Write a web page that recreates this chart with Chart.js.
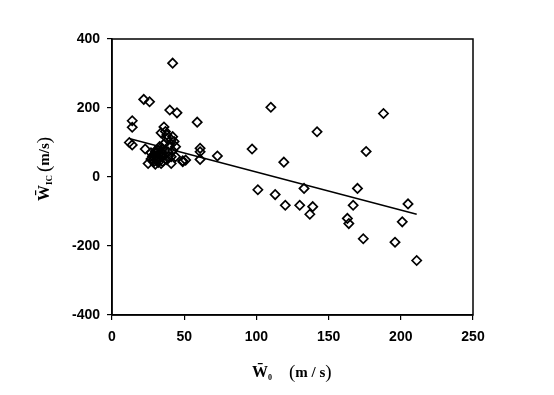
<!DOCTYPE html>
<html>
<head>
<meta charset="utf-8">
<script src="https://cdn.jsdelivr.net/npm/chart.js@4"></script>
<style>
  html, body { margin: 0; padding: 0; background: #fff; }
  canvas { display: block; }
</style>
</head>
<body>
<canvas id="grafico" width="554" height="395"></canvas>
<script>
// Dados
const w0 = [
    110, 188, 142, 97, 176, 119, 101, 113, 133, 170, 120, 130, 139, 137, 167, 163, 164, 205, 201, 174, 196, 211,
    42, 22, 26, 40, 45, 14, 14, 12, 14, 59, 36, 37, 38, 42, 43, 44, 23, 30, 51, 25, 30, 34, 44, 49, 41, 34,
    61, 61, 61, 73, 49, 41,
    28, 31, 32, 33, 35, 36, 38, 39, 40, 31, 34, 37, 41, 42, 27, 29, 33, 36, 38, 27, 32, 35, 39,
    30, 31, 29, 32, 33, 30, 34, 35, 28, 32
];
const wic = [
    202, 184, 131, 81, 74, 43, -37, -51, -33, -33, -82, -82, -86, -108, -82, -120, -135, -78, -130, -179, -189, -242,
    330, 225, 218, 194, 186, 163, 144, 100, 93, 159, 145, 132, 122, 117, 103, 88, 81, 69, 49, 39, 37, 39, 59, 47, 39, 128,
    83, 73, 51, 61, 44, 59,
    60, 72, 78, 55, 82, 66, 50, 72, 92, 48, 62, 100, 108, 76, 52, 44, 88, 95, 112, 70, 65, 45, 60,
    60, 55, 65, 50, 68, 75, 72, 58, 47, 42
];

// Reta de tendência (extremos)
const retaX = [12.5, 211];
const retaY = [111, -108];

const xTicks = [0, 50, 100, 150, 200, 250];
const yTicks = [-400, -200, 0, 200, 400];

const pontos = w0.map((x, i) => ({ x, y: wic[i] }));
const reta = retaX.map((x, i) => ({ x, y: retaY[i] }));

const fonteTicks = { family: 'Arial, "Liberation Sans"', size: 14, weight: 'bold' };

// Desenha texto em segmentos (para subscritos)
function desenharSegmentos(ctx, segs, x, y) {
    let cx = x;
    segs.forEach(s => {
        ctx.font = s.font;
        ctx.fillText(s.text, cx, y + (s.dy || 0));
        cx += ctx.measureText(s.text).width + (s.gap || 0);
    });
}

// Moldura e títulos dos eixos
const plugin = {
    id: 'molduraTitulos',
    afterDraw(chart) {
        const { ctx, chartArea } = chart;
        ctx.save();
        ctx.strokeStyle = '#000';
        ctx.lineWidth = 1.5;
        ctx.strokeRect(chartArea.left, chartArea.top, chartArea.right - chartArea.left, chartArea.bottom - chartArea.top);

        ctx.fillStyle = '#000';
        ctx.textBaseline = 'alphabetic';
        ctx.textAlign = 'left';
        const serif = '"Liberation Serif", "Times New Roman", serif';

        // Eixo X
        desenharSegmentos(ctx, [
            { text: 'W\u0304', font: `bold 16px ${serif}` },
            { text: '0', font: `bold 8px ${serif}`, dy: 3, gap: 17 },
            { text: '(', font: `19px ${serif}`, dy: 1 },
            { text: 'm / s', font: `bold 15px ${serif}` },
            { text: ')', font: `19px ${serif}`, dy: 1 }
        ], 252, 377);

        // Eixo Y (rotacionado)
        ctx.translate(49, 201);
        ctx.rotate(-Math.PI / 2);
        desenharSegmentos(ctx, [
            { text: 'W\u0304', font: `bold 16px ${serif}` },
            { text: 'IC', font: `bold 9px ${serif}`, dy: 3, gap: 3 },
            { text: '(', font: `19px ${serif}`, dy: 1 },
            { text: 'm/s', font: `bold 15px ${serif}` },
            { text: ')', font: `19px ${serif}`, dy: 1 }
        ], 0, 0);
        ctx.restore();
    }
};

new Chart(document.getElementById('grafico'), {
    type: 'scatter',
    data: {
        datasets: [
            {
                label: 'dados',
                data: pontos,
                pointStyle: 'rectRot',
                pointRadius: 4.6,
                pointBorderWidth: 1.7,
                borderColor: '#000',
                backgroundColor: 'rgba(0,0,0,0)'
            },
            {
                label: 'reta',
                data: reta,
                showLine: true,
                pointRadius: 0,
                borderColor: '#000',
                borderWidth: 1.4,
                fill: false
            }
        ]
    },
    plugins: [plugin],
    options: {
        responsive: false,
        animation: false,
        layout: { padding: { top: 39, right: 81, left: 0, bottom: 0 } },
        plugins: { legend: { display: false }, tooltip: { enabled: false } },
        scales: {
            x: {
                type: 'linear',
                min: 0,
                max: 250,
                afterBuildTicks: s => { s.ticks = xTicks.map(v => ({ value: v })); },
                afterFit: s => { s.height = 80; },
                ticks: { color: '#000', font: fonteTicks, padding: 9, maxRotation: 0 },
                grid: { drawOnChartArea: false, tickLength: 5, color: '#000', lineWidth: 1.2 },
                border: { color: '#000', width: 1.5 }
            },
            y: {
                type: 'linear',
                min: -400,
                max: 400,
                afterBuildTicks: s => { s.ticks = yTicks.map(v => ({ value: v })); },
                afterFit: s => { s.width = 112; },
                ticks: { color: '#000', font: fonteTicks, padding: 7 },
                grid: { drawOnChartArea: false, tickLength: 5, color: '#000', lineWidth: 1.2 },
                border: { color: '#000', width: 1.5 }
            }
        }
    }
});
</script>
</body>
</html>
